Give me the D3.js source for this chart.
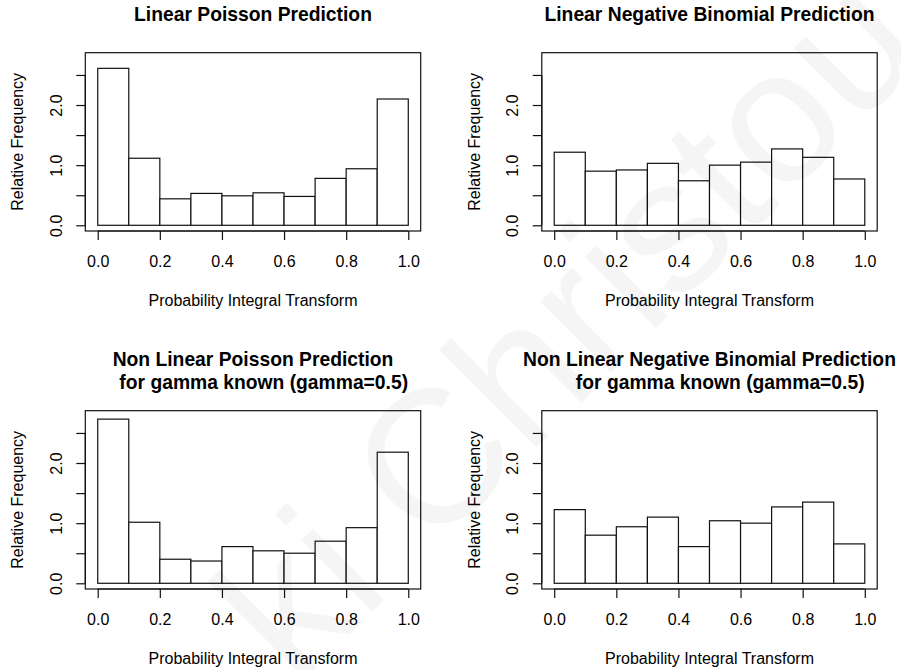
<!DOCTYPE html>
<html>
<head>
<meta charset="utf-8">
<script src="https://cdn.jsdelivr.net/npm/d3@7"></script>
<style>
  html, body { margin: 0; padding: 0; background: #fff; }
  svg { display: block; }
  text { font-family: "Liberation Sans", Arial, Helvetica, sans-serif; fill: #000; }
  .title { font-weight: bold; font-size: 19.3px; white-space: pre; }
  .tick-label, .axis-title { font-size: 16px; }
</style>
</head>
<body>
<svg id="chart" width="901" height="670"></svg>
<script>
// PIT histogram bins (relative frequency = density, bin width 0.1)
const binEdges = [0, 0.1, 0.2, 0.3, 0.4, 0.5, 0.6, 0.7, 0.8, 0.9, 1.0];

const linearPoisson    = [2.61, 1.115, 0.44, 0.53, 0.49, 0.54, 0.48, 0.78, 0.94, 2.10];
const linearNegBin     = [1.215, 0.90, 0.92, 1.03, 0.74, 1.00, 1.05, 1.27, 1.13, 0.77];
const nonLinearPoisson = [2.73, 1.015, 0.40, 0.37, 0.61, 0.54, 0.50, 0.70, 0.925, 2.18];
const nonLinearNegBin  = [1.225, 0.80, 0.94, 1.10, 0.61, 1.04, 1.00, 1.27, 1.35, 0.655];

const panelTitles = [
  ["Linear Poisson Prediction"],
  ["Linear Negative Binomial Prediction"],
  ["Non Linear Poisson Prediction", "    for gamma known (gamma=0.5)"],
  ["Non Linear Negative Binomial Prediction", "    for gamma known (gamma=0.5)"]
];
const panelSeries = [linearPoisson, linearNegBin, nonLinearPoisson, nonLinearNegBin];

const xTicks = [0, 0.2, 0.4, 0.6, 0.8, 1.0];
const yTicks = [0, 0.5, 1.0, 1.5, 2.0, 2.5];
const yTickLabels = [0, 1.0, 2.0];

const xAxisTitle = "Probability Integral Transform";
const yAxisTitle = "Relative Frequency";
const watermarkText = "ki Christou";

// ---- layout (2 x 2 grid of plot regions) ----
const plotW = 335.4, plotH = 178.3;
const colLeft = [85.3, 541.8];
const rowTop = [52.7, 410.7];
const xDomain = [-0.04, 1.04];      // 0..1 with 4% padding
const yDomain = [-0.095, 2.87];
const tickLen = 9;

const svg = d3.select("#chart");
svg.append("rect").attr("width", 901).attr("height", 670).attr("fill", "#fff");

panelSeries.forEach((values, i) => {
  const left = colLeft[i % 2], top = rowTop[Math.floor(i / 2)];
  const x = d3.scaleLinear().domain(xDomain).range([left, left + plotW]);
  const y = d3.scaleLinear().domain(yDomain).range([top + plotH, top]);
  const g = svg.append("g");

  const bins = values.map((v, k) => ({ x0: binEdges[k], x1: binEdges[k + 1], v }));

  // histogram bars
  g.selectAll("rect.bar").data(bins).join("rect")
    .attr("class", "bar")
    .attr("x", d => x(d.x0))
    .attr("y", d => y(d.v))
    .attr("width", d => x(d.x1) - x(d.x0))
    .attr("height", d => y(0) - y(d.v))
    .attr("fill", "#fff")
    .attr("stroke", "#111")
    .attr("stroke-width", 1.2);

  // frame around the plot region
  g.append("rect")
    .attr("x", left).attr("y", top)
    .attr("width", plotW).attr("height", plotH)
    .attr("fill", "none").attr("stroke", "#111").attr("stroke-width", 1.2);

  // bottom axis: line from first to last tick, outward ticks
  const xAxis = d3.axisBottom(x).tickValues(xTicks).tickSize(tickLen)
    .tickSizeOuter(0).tickFormat(d3.format(".1f"));
  const gx = g.append("g").attr("transform", `translate(0,${top + plotH})`).call(xAxis);
  gx.select(".domain").attr("d", `M${x(0)},0H${x(1)}`).attr("stroke", "#111").attr("stroke-width", 1.2);
  gx.selectAll(".tick line").attr("stroke", "#111").attr("stroke-width", 1.2);
  gx.selectAll(".tick text").attr("class", "tick-label")
    .attr("y", 35.7).attr("dy", null).attr("font-size", null).attr("font-family", null);

  // left axis with rotated labels (only every other tick is labelled)
  const yAxis = d3.axisLeft(y).tickValues(yTicks).tickSize(tickLen).tickSizeOuter(0)
    .tickFormat(d => yTickLabels.includes(d) ? d3.format(".1f")(d) : "");
  const gy = g.append("g").attr("transform", `translate(${left},0)`).call(yAxis);
  gy.select(".domain").attr("d", `M0,${y(0)}V${y(2.5)}`).attr("stroke", "#111").attr("stroke-width", 1.2);
  gy.selectAll(".tick line").attr("stroke", "#111").attr("stroke-width", 1.2);
  gy.selectAll(".tick text").attr("class", "tick-label")
    .attr("x", null).attr("dy", null).attr("font-size", null).attr("font-family", null)
    .attr("text-anchor", "middle")
    .attr("transform", "translate(-23.6,0) rotate(-90)");

  // axis titles
  g.append("text").attr("class", "axis-title")
    .attr("x", x(0.5)).attr("y", top + plotH + 74.7)
    .attr("text-anchor", "middle").text(xAxisTitle);
  g.append("text").attr("class", "axis-title")
    .attr("transform", `translate(${left - 62.3},${top + plotH / 2}) rotate(-90)`)
    .attr("text-anchor", "middle").text(yAxisTitle);

  // main title (one or two lines)
  const lines = panelTitles[i];
  const lastBase = lines.length > 1 ? top - 22 : top - 31.7;
  lines.forEach((ln, k) => {
    g.append("text").attr("class", "title")
      .attr("x", x(0.5))
      .attr("y", lastBase - (lines.length - 1 - k) * 22.6)
      .attr("text-anchor", "middle")
      .attr("xml:space", "preserve")
      .text(ln);
  });
});

// faint diagonal watermark across the figure
svg.append("text")
  .attr("transform", "translate(296,688) rotate(-45)")
  .attr("font-size", 190)
  .attr("fill", "#000")
  .attr("fill-opacity", 0.04)
  .style("fill", "#000")
  .text(watermarkText);
</script>
</body>
</html>
